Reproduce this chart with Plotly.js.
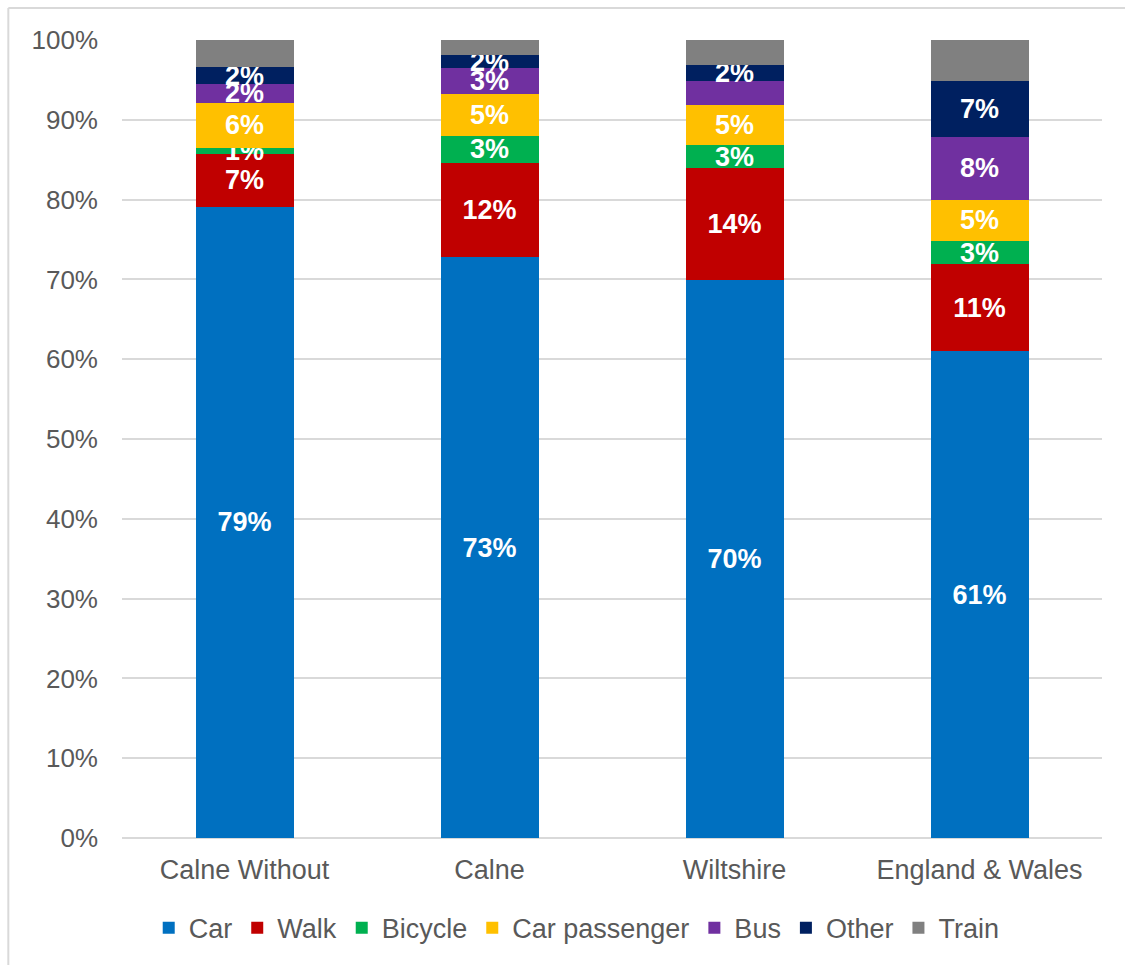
<!DOCTYPE html>
<html>
<head>
<meta charset="utf-8">
<script src="https://cdn.plot.ly/plotly-3.0.1.min.js"></script>
<style>html,body{margin:0;padding:0;background:#fff;}#chart{width:1125px;height:965px;}</style>
</head>
<body>
<div id="chart"></div>
<script>
const categories = ["Calne Without", "Calne", "Wiltshire", "England & Wales"];
const seriesNames = ["Car", "Walk", "Bicycle", "Car passenger", "Bus", "Other", "Train"];
const car          = [79.1, 72.8, 69.9, 61.0];
const walk         = [6.6, 11.8, 14.0, 10.9];
const bicycle      = [0.8, 3.4, 2.9, 2.9];
const carPassenger = [5.6, 5.2, 5.1, 5.2];
const bus          = [2.4, 3.3, 3.0, 7.9];
const other        = [2.1, 1.6, 2.0, 7.0];
const train        = [3.4, 1.9, 3.1, 5.1];
// which data labels are shown in the reference (1 = shown)
const labelShown = {
  "Car": [1,1,1,1], "Walk": [1,1,1,1], "Bicycle": [1,1,1,1],
  "Car passenger": [1,1,1,1], "Bus": [1,1,0,1], "Other": [1,1,1,1], "Train": [0,0,0,0]
};
const colors = ["#0070C0", "#C00000", "#00B050", "#FFC000", "#7030A0", "#002060", "#808080"];
const seriesValues = [car, walk, bicycle, carPassenger, bus, other, train];

const FONT = "Liberation Sans, Arial, sans-serif";
const traces = seriesNames.map((name, i) => ({
  type: "bar",
  name: name,
  x: categories,
  y: seriesValues[i],
  marker: {color: colors[i], line: {width: 0}},
  text: seriesValues[i].map((v, j) => labelShown[name][j] ? Math.round(v) + "%" : ""),
  textposition: "inside",
  insidetextanchor: "middle",
  constraintext: "none",
  textangle: 0,
  insidetextfont: {family: FONT, size: 27, color: "#ffffff", weight: "bold"},
  hoverinfo: "skip"
}));

const layout = {
  width: 1125, height: 965,
  margin: {l: 122, r: 23, t: 40, b: 127},
  paper_bgcolor: "#ffffff", plot_bgcolor: "#ffffff",
  barmode: "stack",
  bargap: 0.6,
  uniformtext: {mode: "show", minsize: 27},
  font: {family: FONT, color: "#595959", size: 25},
  xaxis: {
    type: "category",
    showgrid: false, showline: false, zeroline: false,
    ticks: "", ticklabelstandoff: 13,
    tickfont: {family: FONT, size: 27, color: "#595959"}
  },
  yaxis: {
    range: [0, 100], dtick: 10, ticksuffix: "%",
    showgrid: true, gridcolor: "#d9d9d9", gridwidth: 2,
    zeroline: true, zerolinecolor: "#d9d9d9", zerolinewidth: 2,
    showline: false, ticks: "", ticklabelstandoff: 23,
    tickfont: {family: FONT, size: 26, color: "#595959"}
  },
  showlegend: true,
  legend: {
    orientation: "h", traceorder: "normal",
    x: 0.464, xanchor: "center", y: -0.113, yanchor: "middle",
    font: {family: FONT, size: 27, color: "#595959"},
    itemwidth: 30
  },
  shapes: [
    {type: "line", xref: "paper", yref: "paper", x0: -0.116, x1: 1.03, y0: 1.04, y1: 1.04, line: {color: "#d9d9d9", width: 2}},
    {type: "line", xref: "paper", yref: "paper", x0: -0.116, x1: -0.116, y0: 1.04, y1: -0.2, line: {color: "#d9d9d9", width: 2}}
  ]
};

Plotly.newPlot("chart", traces, layout, {displayModeBar: false, staticPlot: true});
</script>
</body>
</html>
